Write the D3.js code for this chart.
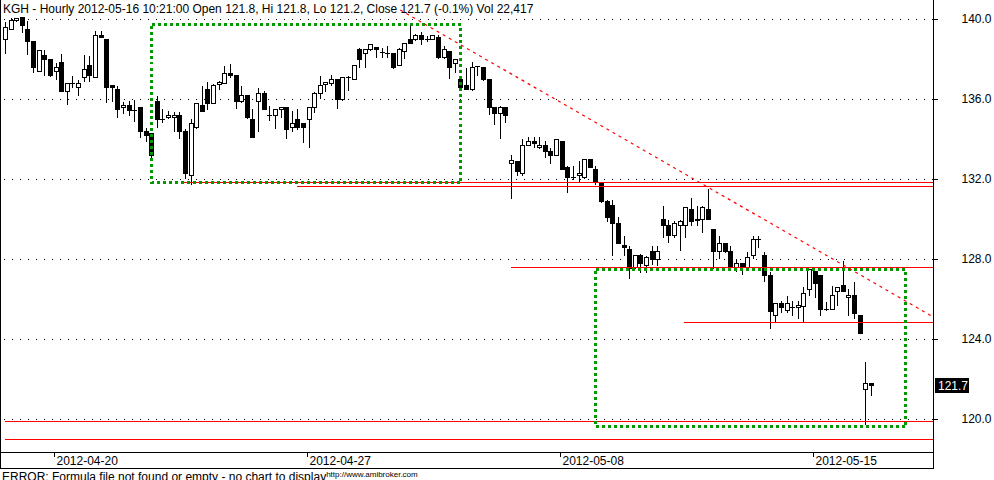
<!DOCTYPE html>
<html><head><meta charset="utf-8">
<script src="https://cdn.jsdelivr.net/npm/d3@7"></script>
<style>
html,body{margin:0;padding:0;background:#fff;overflow:hidden}
svg{display:block}
text{font-family:"Liberation Sans",Arial,sans-serif}
</style></head><body>
<svg id="chart" width="994" height="480"></svg>
<script>
const titleText = "KGH - Hourly 2012-05-16 10:21:00 Open 121.8, Hi 121.8, Lo 121.2, Close 121.7 (-0.1%) Vol 22,417";
const errorText = "ERROR: Formula file not found or empty - no chart to display";
const siteText = "http://www.amibroker.com";

const opens = [
139.0,139.5,139.95,140.1,139.5,138.9,137.4,138.2,138.0,137.4,
137.85,136.4,136.8,136.6,137.1,137.7,137.1,139.2,139.0,136.7,
136.5,135.6,135.7,135.45,135.6,134.4,134.3,135.9,135.0,135.1,
135.1,135.2,134.4,132.2,134.6,135.7,136.5,135.8,136.75,136.8,
137.3,137.2,135.9,136.2,135.0,135.9,136.3,135.2,135.2,135.5,
135.6,134.6,135.0,134.8,135.0,135.6,136.3,136.75,136.8,137.0,
136.0,137.1,137.0,138.5,138.3,138.5,138.6,138.35,138.3,138.3,
137.7,138.4,139.0,139.0,139.2,139.0,139.0,139.1,138.1,138.4,
137.8,137.0,136.7,136.5,137.63,137.6,137.0,135.6,135.3,135.6,
132.8,132.9,132.3,133.7,133.9,133.6,133.7,133.4,133.2,133.9,
132.6,132.1,132.2,132.1,133.0,132.5,131.8,130.9,130.7,129.8,
128.7,128.5,127.6,128.2,127.7,128.4,128.0,130.0,129.7,129.2,
129.7,129.7,130.5,129.95,130.0,130.5,129.5,128.4,128.8,128.4,
127.6,127.8,127.6,128.2,129.0,128.2,127.2,125.2,125.8,125.45,
125.6,125.6,125.65,126.5,127.4,127.2,125.5,125.5,126.4,126.7,
126.1,126.2,125.2,121.5,121.8];
const highs = [
139.9,140.1,140.1,140.1,139.95,138.9,138.5,138.5,138.0,137.85,
138.3,136.85,137.2,137.0,138.25,138.2,139.45,139.45,139.0,136.7,
136.7,135.9,135.95,136.0,135.6,134.6,134.35,136.2,135.55,135.45,
135.4,135.4,134.55,135.05,135.85,136.7,136.9,136.8,136.95,137.7,
137.8,137.25,136.7,136.25,135.55,136.6,136.45,135.7,135.55,135.65,
135.65,135.45,135.55,134.85,135.65,136.4,137.2,136.85,137.25,137.0,
137.15,137.2,137.75,138.6,138.55,138.8,138.65,138.6,138.7,138.35,
138.6,138.85,139.7,139.3,139.4,139.2,139.25,139.25,138.7,138.45,
138.05,137.1,137.6,137.9,137.7,137.65,137.0,135.65,135.7,135.65,
133.25,132.95,134.05,134.15,134.15,134.15,133.95,133.6,134.05,133.95,
132.7,132.7,132.95,133.05,133.05,132.7,131.85,131.0,131.0,130.15,
129.2,128.7,128.25,128.3,128.2,128.7,128.7,130.7,130.0,129.95,
130.0,130.65,131.1,130.7,130.7,131.55,129.5,129.2,128.85,128.7,
128.05,127.85,128.4,129.2,129.2,128.4,127.4,125.8,125.95,126.2,
125.95,125.95,126.65,127.5,127.45,127.25,125.9,126.7,126.6,127.95,
126.55,126.9,125.25,122.9,121.8];
const lows = [
138.3,139.5,139.9,139.35,138.25,137.35,137.4,137.2,137.15,137.0,
136.4,135.75,136.6,136.2,136.9,136.9,137.1,139.1,135.85,135.9,
135.1,135.3,135.2,134.9,134.1,133.9,133.1,134.6,134.85,135.05,
134.4,134.05,132.05,131.75,134.55,135.4,135.5,135.8,136.5,136.8,
137.1,135.55,135.85,135.05,134.1,134.4,135.5,134.95,134.55,135.1,
134.05,134.4,134.5,133.85,133.6,135.35,136.05,136.4,136.7,135.55,
135.95,136.45,137.0,137.6,137.6,138.45,138.1,138.1,138.1,137.55,
137.7,138.05,138.8,138.95,138.75,138.9,139.0,138.05,138.05,137.05,
137.35,136.5,136.5,136.45,137.2,136.95,135.25,134.75,134.05,134.85,
131.05,132.2,132.2,133.7,133.6,133.55,133.1,132.8,133.2,132.5,
131.35,132.0,131.9,132.05,132.6,131.75,130.85,129.9,128.2,128.8,
128.2,127.05,127.55,127.35,127.35,127.75,127.7,129.1,128.85,129.1,
128.45,129.1,129.7,129.7,129.35,130.0,127.55,128.05,128.35,127.55,
127.4,127.25,127.55,128.05,128.6,126.9,124.55,124.85,125.35,125.35,
125.2,125.05,124.85,126.2,126.1,125.2,125.45,125.5,125.7,126.4,
125.2,125.05,124.3,119.7,121.2];
const closes = [
139.6,139.95,140.05,139.7,138.9,137.6,138.45,138.0,137.2,137.6,
136.4,136.8,136.8,136.8,137.5,137.2,139.2,139.1,136.6,136.6,
135.5,135.7,135.45,135.45,134.4,134.2,133.2,135.0,135.0,135.2,
135.2,134.4,132.3,134.8,135.8,135.4,135.8,136.7,136.85,137.3,
137.2,135.9,136.2,135.1,134.1,136.3,135.5,135.2,135.5,135.6,
134.5,134.8,134.6,134.6,135.6,136.3,136.7,136.85,137.0,136.0,
137.1,137.1,137.7,138.0,138.5,138.75,138.5,138.35,138.3,137.6,
138.5,138.8,138.8,139.2,139.0,139.0,139.2,138.1,138.5,137.6,
138.0,136.6,136.5,137.6,137.63,137.0,135.6,135.3,135.6,135.2,
132.95,132.4,133.7,133.9,133.8,133.7,133.4,133.2,134.0,132.5,
132.1,132.1,132.3,133.0,132.6,131.9,130.9,130.1,129.8,128.8,
128.6,127.55,128.2,127.8,128.1,128.0,128.4,129.7,129.2,129.8,
129.9,130.6,129.9,130.0,130.6,130.0,128.4,128.8,128.4,127.6,
127.8,127.6,128.1,129.0,129.0,127.2,125.4,125.8,125.6,125.8,
125.6,125.7,126.3,127.5,126.8,125.5,125.5,126.2,126.6,126.4,
126.2,125.3,124.3,121.8,121.7];

const priceTicks = [120, 124, 128, 132, 136, 140];
const dateTickLabels = ["2012-04-20", "2012-04-27", "2012-05-08", "2012-05-15"];
const dateTickBars = [9, 54, 99, 144];
const lastPrice = 121.7;
const levelPrices = [131.82, 131.66, 127.56, 124.83, 119.88, 118.98];
const levelStartBars = [31.7, 51.9, 90, 120.8, 0, 0];
const boxBars = [[26, 81], [105, 160]];
const boxPrices = [[131.86, 139.76], [119.64, 127.5]];
const trendBars = [70.3, 165];
const trendPrices = [140.45, 125.1];

// ---------- layout ----------
const svg = d3.select("#chart");
const axisX = 933, xAxisY = 452, bottomY = 468;
const x = d3.scaleLinear().domain([0, 154]).range([5, 870.9]);
const y = d3.scaleLinear().domain([120, 140]).range([418.5, 19]);
const px = v => Math.round(x(v)) + 0.5;
const py = v => Math.round(y(v)) + 0.5;
const FONT = 12;

svg.append("rect").attr("width", 994).attr("height", 480).attr("fill", "#fff");

const plot = svg.append("g").attr("shape-rendering", "crispEdges");

// dotted grid
plot.append("g").selectAll("line").data(priceTicks).join("line")
  .attr("x1", 4).attr("x2", axisX).attr("y1", d => py(d)).attr("y2", d => py(d))
  .attr("stroke", "#000").attr("stroke-width", 1).attr("stroke-dasharray", "1,7");

// candles
const bars = d3.range(opens.length).map(i => ({i, o: opens[i], h: highs[i], l: lows[i], c: closes[i]}));
const cg = plot.append("g");
cg.selectAll("line.wick").data(bars).join("line").attr("class", "wick")
  .attr("x1", d => px(d.i)).attr("x2", d => px(d.i))
  .attr("y1", d => py(d.h)).attr("y2", d => py(d.l))
  .attr("stroke", "#000").attr("stroke-width", 1);
const bodies = bars.filter(d => Math.round(y(Math.min(d.o, d.c))) !== Math.round(y(Math.max(d.o, d.c))));
const dojis = bars.filter(d => Math.round(y(Math.min(d.o, d.c))) === Math.round(y(Math.max(d.o, d.c))));
cg.selectAll("rect.body").data(bodies).join("rect").attr("class", "body")
  .attr("x", d => px(d.i) - 2).attr("width", 4)
  .attr("y", d => py(Math.max(d.o, d.c)))
  .attr("height", d => py(Math.min(d.o, d.c)) - py(Math.max(d.o, d.c)))
  .attr("fill", d => d.c >= d.o ? "#fff" : "#000")
  .attr("stroke", "#000").attr("stroke-width", 1);
cg.selectAll("line.doji").data(dojis).join("line").attr("class", "doji")
  .attr("x1", d => px(d.i) - 2.5).attr("x2", d => px(d.i) + 2.5)
  .attr("y1", d => py(d.c)).attr("y2", d => py(d.c))
  .attr("stroke", "#000").attr("stroke-width", 1);

// red horizontal levels
plot.append("g").selectAll("line").data(levelPrices).join("line")
  .attr("x1", (d, k) => Math.round(x(levelStartBars[k]))).attr("x2", axisX)
  .attr("y1", d => py(d)).attr("y2", d => py(d))
  .attr("stroke", "#ff0000").attr("stroke-width", 1);

// green dotted boxes
plot.append("g").selectAll("rect").data(boxBars).join("rect")
  .attr("x", d => Math.round(x(d[0])) + 0.5)
  .attr("y", (d, k) => Math.round(y(boxPrices[k][1])) + 0.5)
  .attr("width", d => Math.round(x(d[1])) - Math.round(x(d[0])))
  .attr("height", (d, k) => Math.round(y(boxPrices[k][0])) - Math.round(y(boxPrices[k][1])))
  .attr("fill", "none").attr("stroke", "#009a00").attr("stroke-width", 3)
  .attr("stroke-dasharray", "3,3");

// red dashed trend line
svg.append("defs").append("clipPath").attr("id", "pclip")
  .append("rect").attr("x", 0).attr("y", 0).attr("width", axisX).attr("height", xAxisY);
svg.append("line").attr("clip-path", "url(#pclip)")
  .attr("x1", x(trendBars[0])).attr("y1", y(trendPrices[0]))
  .attr("x2", x(trendBars[1])).attr("y2", y(trendPrices[1]))
  .attr("stroke", "#ff0000").attr("stroke-width", 1.2).attr("stroke-dasharray", "3,4");

// frame & axes
const frame = svg.append("g").attr("shape-rendering", "crispEdges").attr("stroke", "#000").attr("stroke-width", 1);
frame.append("line").attr("x1", 0.5).attr("x2", 0.5).attr("y1", 0).attr("y2", bottomY + 0.5);
frame.append("line").attr("x1", axisX + 0.5).attr("x2", axisX + 0.5).attr("y1", 0).attr("y2", bottomY + 0.5);
frame.append("line").attr("x1", 0).attr("x2", axisX + 0.5).attr("y1", xAxisY + 0.5).attr("y2", xAxisY + 0.5);
frame.append("line").attr("x1", 0).attr("x2", axisX + 0.5).attr("y1", bottomY + 0.5).attr("y2", bottomY + 0.5);

// right price axis
const ya = svg.append("g");
ya.selectAll("line").data(priceTicks).join("line").attr("shape-rendering", "crispEdges")
  .attr("x1", axisX).attr("x2", axisX + 5).attr("y1", d => py(d)).attr("y2", d => py(d))
  .attr("stroke", "#000");
ya.selectAll("text").data(priceTicks).join("text")
  .attr("x", 991.5).attr("y", d => y(d) + 4.4).attr("text-anchor", "end")
  .attr("font-size", FONT).attr("fill", "#000").text(d => d3.format(".1f")(d));

// last price tag
svg.append("rect").attr("x", 935).attr("y", Math.round(y(lastPrice)) - 7).attr("width", 34).attr("height", 15).attr("fill", "#000");
svg.append("text").attr("x", 938).attr("y", Math.round(y(lastPrice)) + 5).attr("font-size", FONT)
  .attr("fill", "#fff").text(d3.format(".1f")(lastPrice));

// date axis
const xa = svg.append("g");
xa.selectAll("line").data(dateTickBars).join("line").attr("shape-rendering", "crispEdges")
  .attr("x1", d => Math.round(x(d - 0.25)) + 0.5).attr("x2", d => Math.round(x(d - 0.25)) + 0.5)
  .attr("y1", xAxisY + 1).attr("y2", xAxisY + 5).attr("stroke", "#000");
xa.selectAll("text").data(dateTickBars).join("text")
  .attr("x", d => Math.round(x(d - 0.25)) + 2.5).attr("y", 464.5)
  .attr("font-size", FONT).attr("fill", "#000").text((d, k) => dateTickLabels[k]);

// title
svg.append("text").attr("x", 3).attr("y", 13).attr("font-size", FONT).attr("fill", "#000").text(titleText);

// bottom error + site
const et = svg.append("text").attr("x", 2).attr("y", 481).attr("font-size", FONT).attr("fill", "#000").text(errorText);
const ew = et.node().getComputedTextLength();
svg.append("text").attr("x", 2 + ew).attr("y", 476.5).attr("font-size", 8).attr("fill", "#000").text(siteText);
</script>
</body></html>
